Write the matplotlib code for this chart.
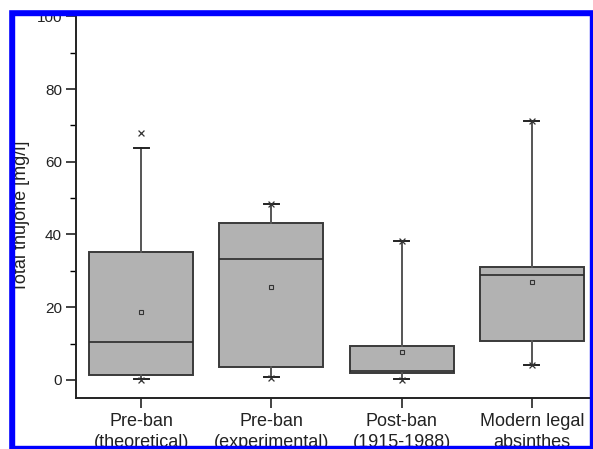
import matplotlib
matplotlib.use("Agg")
import matplotlib.pyplot as plt
from matplotlib.patches import Rectangle

plt.rcParams['font.family'] = ['Liberation Sans', 'DejaVu Sans']

# values (mg/l)
categories = ["Pre-ban\n(theoretical)", "Pre-ban\n(experimental)",
              "Post-ban\n(1915-1988)", "Modern legal\nabsinthes"]
q1 = [1.4, 3.5, 1.8, 10.8]
med = [10.4, 33.3, 2.5, 28.8]
q3 = [35.2, 43.2, 9.4, 31.0]
means = [18.6, 25.5, 7.6, 26.9]
whislo = [0.3, 0.8, 0.2, 4.1]
whishi = [63.7, 48.3, 38.3, 71.2]
minv = [0.0, 0.5, 0.0, 4.1]
maxv = [68.0, 48.3, 38.3, 71.2]

stats = []
for i in range(len(categories)):
    stats.append(dict(q1=q1[i], med=med[i], q3=q3[i], mean=means[i],
                      whislo=whislo[i], whishi=whishi[i], fliers=[]))

fig = plt.figure(figsize=(5.93, 4.49), dpi=100)
ax = fig.add_axes([76/593, 51/449, 521/593, 381.5/449])
pos = list(range(1, len(categories) + 1))

ax.bxp(stats, positions=pos, widths=0.8, patch_artist=True, showmeans=True,
       showfliers=False, capwidths=0.115,
       boxprops=dict(facecolor='#b2b2b2', edgecolor='#3a3a3a', linewidth=1.4),
       medianprops=dict(color='#2a2a2a', linewidth=1.2),
       whiskerprops=dict(color='#555555', linewidth=1.4),
       capprops=dict(color='#222222', linewidth=1.4),
       meanprops=dict(marker='s', markerfacecolor='none', markeredgecolor='#333333',
                      markersize=3.5, markeredgewidth=0.8))

ax.scatter(pos, minv, marker='x', s=18, color='#333333', linewidths=0.9, zorder=4)
ax.scatter(pos, maxv, marker='x', s=18, color='#333333', linewidths=0.9, zorder=4)

ax.set_xlim(0.5, 4.5)
ax.set_ylim(-5, 100)
ax.set_yticks([0, 20, 40, 60, 80, 100])
ax.set_yticks([10, 30, 50, 70, 90], minor=True)
ax.set_xticks(pos)
ax.set_xticklabels(categories, fontsize=13, color='#222222', linespacing=1.25)
ax.tick_params(axis='y', labelsize=11, length=7, width=1.2, colors='#222222', pad=3)
ax.tick_params(axis='y', which='minor', length=4, width=1.0)
ax.tick_params(axis='x', length=7, width=1.2, colors='#222222', pad=4)
ax.set_ylabel("Total thujone [mg/l]", fontsize=13, color='#222222', labelpad=0)
ax.yaxis.set_label_coords(-0.089, 0.476)

for s in ['top', 'right']:
    ax.spines[s].set_visible(False)
for s in ['left', 'bottom']:
    ax.spines[s].set_linewidth(1.4)
    ax.spines[s].set_color('#222222')

# blue frame of the original crop
blue = '#0000ff'
fig.patches.append(Rectangle((8/593, 0), 6/593, 1, transform=fig.transFigure, color=blue, zorder=10))
fig.patches.append(Rectangle((0, 1 - 15/449), 1, 6/449, transform=fig.transFigure, color=blue, zorder=10))
fig.patches.append(Rectangle((590/593, 0), 3/593, 1, transform=fig.transFigure, color=blue, zorder=10))
fig.patches.append(Rectangle((0, 0), 1, 3/449, transform=fig.transFigure, color=blue, zorder=10))
fig.patches.append(Rectangle((0, 1 - 9/449), 1, 9/449, transform=fig.transFigure, color='white', zorder=11))
fig.patches.append(Rectangle((0, 0), 8/593, 1, transform=fig.transFigure, color='white', zorder=11))

fig.savefig("out.png", dpi=100)
